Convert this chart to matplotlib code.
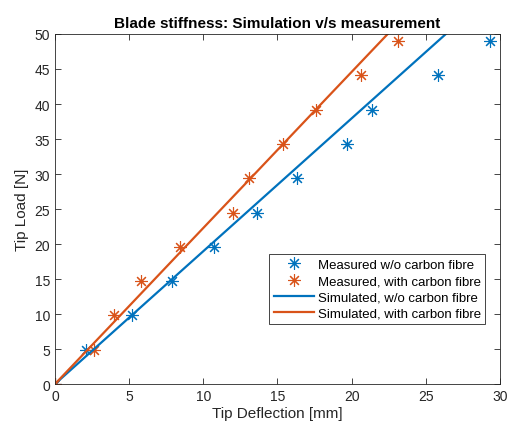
import numpy as np
import matplotlib
matplotlib.use('Agg')
import matplotlib.pyplot as plt

plt.rcParams['font.family'] = ['Liberation Sans', 'DejaVu Sans']

# measured tip load [N] and tip deflection [mm]
load_meas = [0, 4.9, 9.8, 14.7, 19.6, 24.5, 29.4, 34.3, 39.2, 44.1, 49.0]
defl_plain = [0, 2.1, 5.2, 7.9, 10.7, 13.6, 16.3, 19.7, 21.4, 25.85, 29.35]
defl_carbon = [0, 2.6, 4.0, 5.8, 8.4, 12.0, 13.1, 15.35, 17.6, 20.6, 23.15]

# simulated curves
load_sim = [0, 10, 20, 30, 40, 50, 60]
sim_plain = [0, 5.27, 10.54, 15.81, 21.08, 26.35, 31.62]
sim_carbon = [0, 4.49, 8.97, 13.46, 17.94, 22.43, 26.92]

blue = '#0072BD'
orange = '#D95319'
star = (8, 2, 0)  # 8-arm asterisk like matlab

fig = plt.figure(figsize=(5.11, 4.31), dpi=100)
ax = fig.add_axes([0.1076, 0.1067, 0.8709, 0.8121])

ax.plot(defl_plain, load_meas, linestyle='none', marker=star, ms=9,
        mew=0.8, color=blue, label='Measured w/o carbon fibre')
ax.plot(defl_carbon, load_meas, linestyle='none', marker=star, ms=9,
        mew=0.8, color=orange, label='Measured, with carbon fibre')
ax.plot(sim_plain, load_sim, color=blue, lw=1.6,
        label='Simulated, w/o carbon fibre')
ax.plot(sim_carbon, load_sim, color=orange, lw=1.6,
        label='Simulated, with carbon fibre')

ax.set_xlim(0, 30)
ax.set_ylim(0, 50)
ax.set_xticks(np.arange(0, 31, 5))
ax.set_yticks(np.arange(0, 51, 5))
ax.tick_params(direction='in', top=True, right=True, labelsize=10,
               colors='#262626', length=4, width=0.6)
for s in ax.spines.values():
    s.set_color('#262626')
    s.set_linewidth(0.6)

ax.set_xlabel('Tip Deflection [mm]', fontsize=11, color='#262626', labelpad=2)
ax.set_ylabel('Tip Load [N]', fontsize=11, color='#262626', labelpad=4)
ax.set_title('Blade stiffness: Simulation v/s measurement', fontsize=11,
             fontweight='bold', pad=5)

leg = ax.legend(loc='lower right', bbox_to_anchor=(0.967, 0.171), fontsize=9.5,
                fancybox=False, framealpha=1, edgecolor='#262626',
                borderpad=0.35, labelspacing=0.3, handlelength=3.0,
                handletextpad=0.3, borderaxespad=0)
leg.get_frame().set_linewidth(0.6)

fig.savefig('out.png', dpi=100)
